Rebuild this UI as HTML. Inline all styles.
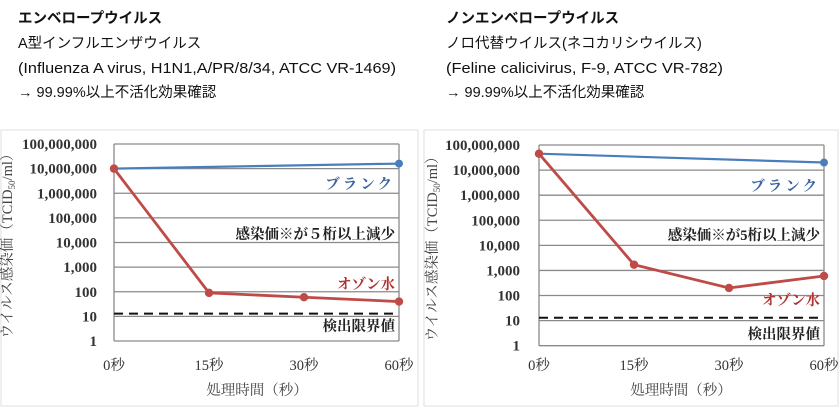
<!DOCTYPE html>
<html><head><meta charset="utf-8"><style>
html,body{margin:0;padding:0;background:#fff;}
svg{display:block;font-family:"Liberation Sans","Noto Sans CJK JP",sans-serif;}
.s{font-family:"Liberation Serif","Noto Serif CJK SC",serif;}
</style></head><body>
<svg id="c" width="840" height="409" viewBox="0 0 840 409" xmlns="http://www.w3.org/2000/svg">
<g font-size="14.5" fill="#111">
<text x="18" y="23" font-weight="bold">エンベロープウイルス</text>
<text x="18" y="48">A型インフルエンザウイルス</text>
<text x="18" y="73" textLength="378" lengthAdjust="spacingAndGlyphs">(Influenza A virus, H1N1,A/PR/8/34, ATCC VR-1469)</text>
<text x="18" y="97">→ 99.99%以上不活化効果確認</text>
</g>
<g font-size="14.5" fill="#111">
<text x="446" y="23" font-weight="bold">ノンエンベロープウイルス</text>
<text x="446" y="48">ノロ代替ウイルス(ネコカリシウイルス)</text>
<text x="446" y="73" textLength="277" lengthAdjust="spacingAndGlyphs">(Feline calicivirus, F-9, ATCC VR-782)</text>
<text x="446" y="97">→ 99.99%以上不活化効果確認</text>
</g>
</svg>
<script>
const categories = ["0秒","15秒","30秒","60秒"];
const yTickLabels = ["1","10","100","1,000","10,000","100,000","1,000,000","10,000,000","100,000,000"];
const leftBlankCats = [0,3];
const leftBlank = [10000000,16000000];
const leftOzone = [10000000,90,60,40];
const rightBlankCats = [0,3];
const rightBlank = [45000000,20000000];
const rightOzone = [45000000,1700,200,600];
const detectionLimit = 13;

const NS="http://www.w3.org/2000/svg";
const svg=document.getElementById('c');
function el(tag,attrs,parent,text){const e=document.createElementNS(NS,tag);for(const k in attrs)e.setAttribute(k,attrs[k]);if(text!==undefined)e.textContent=text;(parent||svg).appendChild(e);return e;}

function chart(side,cfg){
  const g=el('g',{});
  
  
  const fr=el('rect',{x:cfg.fx,y:130,width:cfg.fw,height:276,fill:'#fff',stroke:'#e4e4e4','stroke-width':1.2},g);
  
  
  const y=v=>cfg.bot-(Math.log10(v))*(cfg.bot-cfg.top)/8;
  const x=i=>cfg.l+i*(cfg.r-cfg.l)/(categories.length-1);
  yTickLabels.forEach((t,i)=>{
    const yy=cfg.bot-i*(cfg.bot-cfg.top)/8;
    const gl=el('line',{x1:cfg.l,x2:cfg.r,y1:yy,y2:yy,stroke:'#8a8a8a','stroke-width':1.3},g);
    
    
    const tl=el('text',{x:cfg.tx,y:yy+5,'text-anchor':'end','font-size':15,'font-weight':'bold',fill:'#333',class:'s'},g,t);
    
    
  });
  el('line',{x1:cfg.l,x2:cfg.l,y1:cfg.top,y2:cfg.bot,stroke:'#8a8a8a','stroke-width':1.3},g);
  el('line',{x1:cfg.r,x2:cfg.r,y1:cfg.top,y2:cfg.bot,stroke:'#8a8a8a','stroke-width':1.3},g);
  categories.forEach((c,i)=>{
    const t=el('text',{x:x(i),y:370,'text-anchor':'middle','font-size':14.5,fill:'#333',class:'s'},g,c);
    
    
  });
  const xt=el('text',{x:cfg.xtx,y:395,'text-anchor':'middle','font-size':14.5,fill:'#444',class:'s'},g,'処理時間（秒）');
  
  
  const yt=el('text',{x:0,y:0,transform:`translate(${cfg.ytx},${(cfg.top+cfg.bot)/2}) rotate(-90)`,'text-anchor':'middle','font-size':14.5,fill:'#444',class:'s'},g);
  
  
  yt.innerHTML='ウイルス感染価（TCID<tspan font-size="9" dy="3">50</tspan><tspan dy="-3">/ml）</tspan>';
  const dl=el('line',{x1:cfg.l,x2:cfg.r,y1:y(detectionLimit),y2:y(detectionLimit),stroke:'#111','stroke-width':2,'stroke-dasharray':'9,6'},g);
  
  
  const bp=cfg.blankCats.map((c,i)=>x(c)+','+y(cfg.blank[i])).join(' ');
  const bl=el('polyline',{points:bp,fill:'none',stroke:'#4a7ebb','stroke-width':2.2},g);
  
  
  const op=cfg.ozone.map((v,i)=>x(i)+','+y(v)).join(' ');
  const ol=el('polyline',{points:op,fill:'none',stroke:'#be4b48','stroke-width':2.8},g);
  
  
  cfg.blankCats.forEach((c,i)=>{
    const p=el('circle',{cx:x(c),cy:y(cfg.blank[i]),r:4,fill:'#4a7ebb'},g);
    
    
  });
  cfg.ozone.forEach((v,i)=>{
    const p=el('circle',{cx:x(i),cy:y(v),r:4.2,fill:'#be4b48'},g);
    
    
  });
  const labs=[['ブランク',cfg.lb[0],'#3c64a0','blank-label'],['感染価※が'+cfg.five+'桁以上減少',cfg.lb[1],'#222','reduction-annotation'],['オゾン水',cfg.lb[2],'#b03030','ozone-label'],['検出限界値',cfg.lb[3],'#222','detection-limit-label']];
  labs.forEach(a=>{
    const t=el('text',{x:cfg.r-4,y:a[1],'text-anchor':'end','font-size':14.5,'font-weight':'bold',fill:a[2],class:'s','letter-spacing':a[3]==='blank-label'?3:0},g,a[0]);
    
    
  });
}
chart('left',{fx:1,fw:417,l:114,r:399,top:144,bot:341,tx:97,ytx:12,xtx:257,blankCats:leftBlankCats,blank:leftBlank,ozone:leftOzone,five:'５',lb:[189,239,289,331]});
chart('right',{fx:424,fw:414,l:539,r:824,top:145,bot:345.7,tx:520,ytx:437,xtx:681,blankCats:rightBlankCats,blank:rightBlank,ozone:rightOzone,five:'5',lb:[191,240,305,339]});
</script>
</body></html>
